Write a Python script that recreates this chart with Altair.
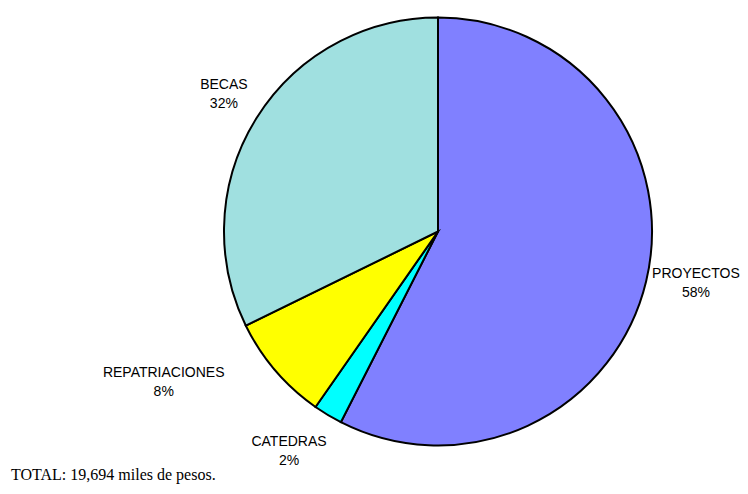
import altair as alt
import pandas as pd

# Data (miles de pesos)
categories = ["PROYECTOS", "CATEDRAS", "REPATRIACIONES", "BECAS"]
values = [11324, 433, 1585, 6352]
percent_labels = ["58%", "2%", "8%", "32%"]
total_text = "TOTAL: 19,694 miles de pesos."

# Styling / layout (kept separate from the data)
colors = ["#8080FF", "#00FFFF", "#FFFF00", "#A0E0E0"]
label_radius = [263, 266, 313, 254]
label_shift_deg = [-2.2, 3.1, 11.8, 0.6]

df = pd.DataFrame({
    "cat": categories,
    "value": values,
    "pct": percent_labels,
    "idx": list(range(len(categories))),
    "lr": label_radius,
    "shift": label_shift_deg,
})
df["label"] = df["cat"] + "\n" + df["pct"]

cx, cy = 430, 223.5

base = alt.Chart(df)

pie = base.mark_arc(outerRadius=214, stroke="black", strokeWidth=2).encode(
    theta=alt.Theta("value:Q", stack=True),
    color=alt.Color("cat:N", scale=alt.Scale(domain=categories, range=colors), legend=None),
    order=alt.Order("idx:Q"),
    x=alt.value(cx),
    y=alt.value(cy),
)

labels = base.transform_joinaggregate(
    total="sum(value)"
).transform_window(
    cum="sum(value)", sort=[alt.SortField("idx")], frame=[None, 0]
).transform_calculate(
    ang="(datum.cum - datum.value/2)/datum.total*2*PI + datum.shift*PI/180"
).mark_text(
    font="Liberation Sans", fontSize=14, lineBreak="\n", lineHeight=19,
    align="center", baseline="middle", color="black", dy=-9.5
).encode(
    theta=alt.Theta("ang:Q", scale=None, stack=False),
    radius=alt.Radius("lr:Q", scale=None),
    text="label:N",
    x=alt.value(cx),
    y=alt.value(cy),
)

chart = alt.layer(pie, labels).properties(
    width=732,
    height=464,
    autosize=alt.AutoSizeParams(type="none"),
    padding={"left": 0, "top": 0, "right": 0, "bottom": 14},
    title=alt.TitleParams(
        text=total_text, orient="bottom", anchor="start", frame="group",
        font="Liberation Serif", fontSize=16, fontWeight="normal",
        color="black", baseline="alphabetic", offset=8, dx=3,
    ),
).configure_view(stroke=None)

chart.save("out.html", embed_options={"renderer": "svg", "actions": False})
